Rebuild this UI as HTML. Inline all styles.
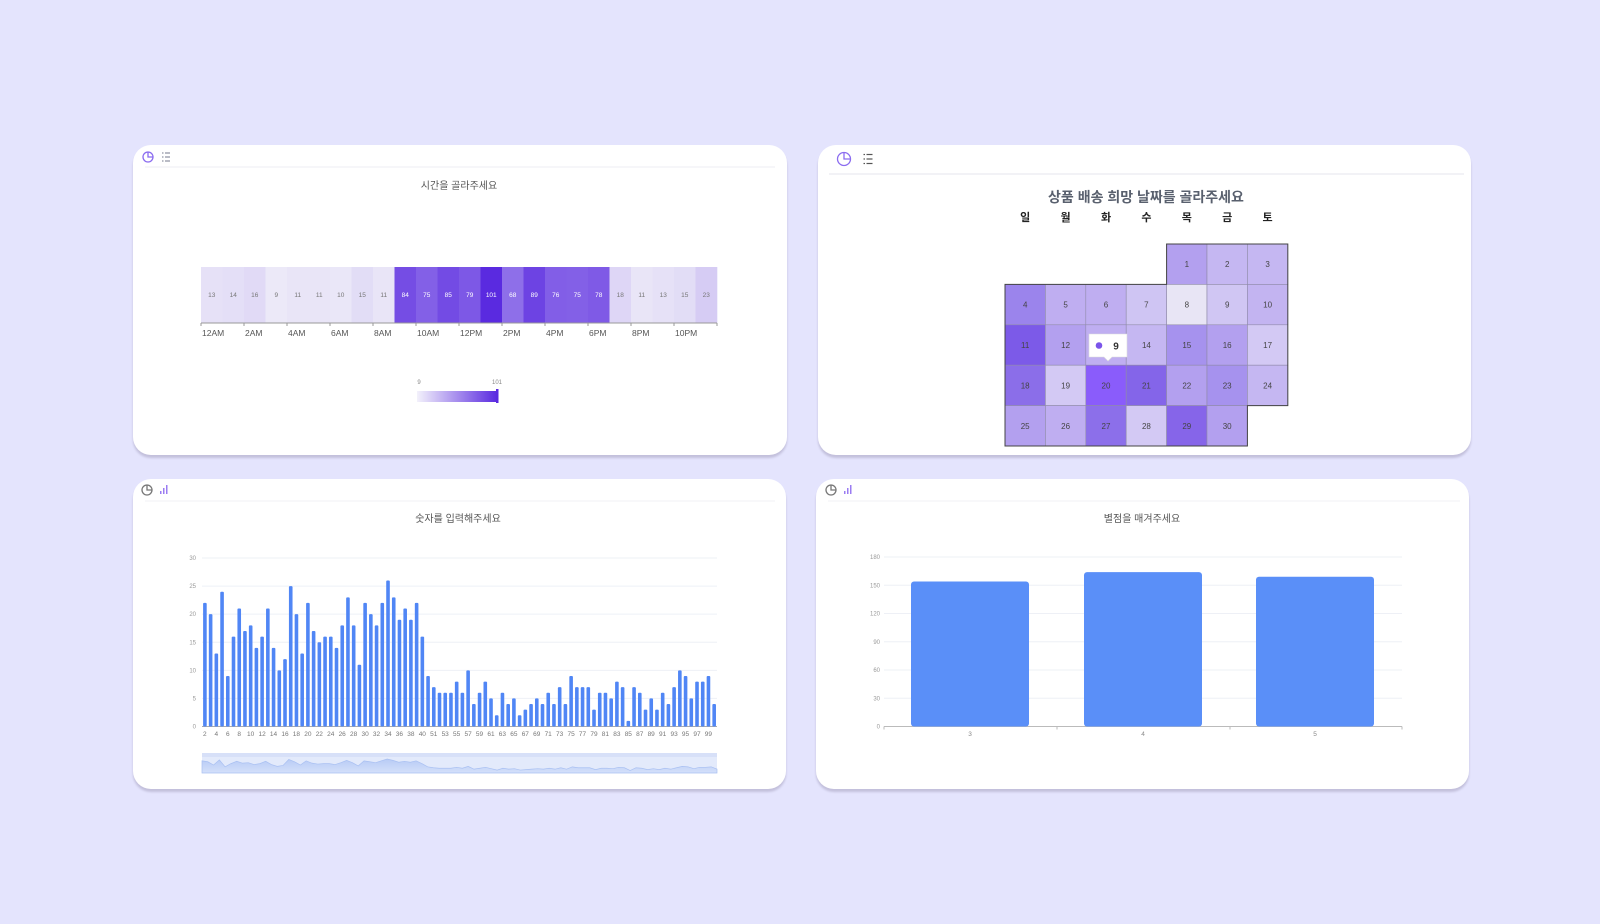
<!DOCTYPE html>
<html><head><meta charset="utf-8"><style>
html,body{margin:0;padding:0}
body{width:1600px;height:924px;background:#e4e4fd;position:relative;overflow:hidden;font-family:"Liberation Sans","Noto Sans CJK KR",sans-serif}
.card{position:absolute;background:#fff;border-radius:18px;box-shadow:0 3px 2px #c3c0dc}
svg{position:absolute;left:0;top:0}
</style></head><body>
<div class="card" style="left:133px;top:145px;width:654px;height:310px"></div>
<div class="card" style="left:818px;top:145px;width:653px;height:310px"></div>
<div class="card" style="left:133px;top:479px;width:653px;height:310px"></div>
<div class="card" style="left:816px;top:479px;width:653px;height:310px"></div>
<svg id="s" width="1600" height="924" xmlns="http://www.w3.org/2000/svg" font-family="Liberation Sans, Noto Sans CJK KR, sans-serif"></svg>
<script>
var o='';
function R(x,y,w,h,f,extra){o+='<rect x="'+x+'" y="'+y+'" width="'+w+'" height="'+h+'" fill="'+f+'" '+(extra||'')+'/>';}
function T(x,y,t,sz,f,anc,extra){o+='<text x="'+x+'" y="'+y+'" font-size="'+sz+'" fill="'+f+'" text-anchor="'+(anc||'middle')+'" '+(extra||'')+'>'+t+'</text>';}
function L(x1,y1,x2,y2,c,w){o+='<line x1="'+x1+'" y1="'+y1+'" x2="'+x2+'" y2="'+y2+'" stroke="'+c+'" stroke-width="'+(w||1)+'"/>';}
function pie(x,y,r,c){o+='<circle cx="'+x+'" cy="'+y+'" r="'+r+'" fill="none" stroke="'+c+'" stroke-width="1.3"/><path d="M'+x+' '+(y-r)+' V'+y+' H'+(x+r)+'" fill="none" stroke="'+c+'" stroke-width="1.3"/>';}
function list(x,y,s,c){for(var i=0;i<3;i++){L(x-s,y-s+i*s,x-s+1.5,y-s+i*s,c,1.2);L(x-s+3,y-s+i*s,x+s,y-s+i*s,c,1.2);}}
function bars(x,y,c){R(x-4,y+1,1.5,3,c);R(x-1,y-2,1.5,6,c);R(x+2,y-5,1.5,9,c);}
// icons & dividers
pie(148,157,5,'#8b6cf0');list(166,157,4,'#8b8fa0');L(145,167,775,167,'#eeeef3');
pie(844,159,6.5,'#8b6cf0');list(868,159,4.5,'#555');L(829,174,1464,174,'#e6e6ee');
pie(147,490,5,'#777');bars(164,490,'#9b7cf2');L(145,501,775,501,'#f2f2f6');
pie(831,490,5,'#777');bars(848,490,'#9b7cf2');L(828,501,1460,501,'#f2f2f6');
// titles
T(459,189,'시간을 골라주세요',10,'#555');
T(1146,202,'상품 배송 희망 날짜를 골라주세요',14,'#59606e','middle','font-weight="bold"');
T(458,522,'숫자를 입력해주세요',10,'#555');
T(1142,522,'별점을 매겨주세요',10,'#555');
// card1 heatmap
var hv=[13,14,16,9,11,11,10,15,11,84,75,85,79,101,68,89,76,75,78,18,11,13,15,23];
function col(v){var t=(v-9)/92;var a=[236,233,248],b=[90,42,224];var c=a.map(function(x,i){return Math.round(x+(b[i]-x)*t);});return 'rgb('+c.join(',')+')';}
var hx=201,hw=21.5;
hv.forEach(function(v,i){R(hx+i*hw,267,hw+0.3,56,col(v));T(hx+i*hw+hw/2,297,v,6.5,v>60?'#fff':'#777');});
L(hx,323,hx+24*hw,323,'#999');
var hl=['12AM','2AM','4AM','6AM','8AM','10AM','12PM','2PM','4PM','6PM','8PM','10PM'];
hl.forEach(function(t,i){L(hx+i*2*hw,323,hx+i*2*hw,326,'#999');T(hx+i*2*hw+1,336,t,8.5,'#555','start');});
L(hx+24*hw,323,hx+24*hw,326,'#999');
o+='<defs><linearGradient id="g" x1="0" x2="1"><stop offset="0" stop-color="#f3f1fb"/><stop offset="1" stop-color="#5a2ae0"/></linearGradient><linearGradient id="a" x1="0" x2="0" y1="0" y2="1"><stop offset="0" stop-color="#b8cbf5"/><stop offset="1" stop-color="#d4e0fa"/></linearGradient></defs>';
R(417,391,80,11,'url(#g)');R(496,389,2.5,14,'#5a2ae0');
T(419,384,'9',6,'#888');T(497,384,'101',6,'#888');
// card2 calendar
var dl=['일','월','화','수','목','금','토'];
var cx0=1005,cw=40.4,cy0=244,ch=40.4;
dl.forEach(function(t,i){T(cx0+i*cw+cw/2,221,t,11,'#222','middle','font-weight="bold"');});
var cc={1:'#b3a0ef',2:'#c5b7f2',3:'#c5b7f2',4:'#9b84ec',5:'#bfaef1',6:'#bfaef1',7:'#cfc5f3',8:'#e8e5f5',9:'#d0c6f3',10:'#c3b4f1',11:'#7c5ae8',12:'#b3a0ef',13:'#bfaef1',14:'#c5b7f2',15:'#a692ee',16:'#b3a0ef',17:'#d3c9f4',18:'#8b6ee9',19:'#d3c9f4',20:'#8a5cfb',21:'#8465e9',22:'#b3a0ef',23:'#a692ee',24:'#c5b7f2',25:'#b3a0ef',26:'#bfaef1',27:'#8c6fea',28:'#d3c9f4',29:'#8665e9',30:'#b3a0ef'};
for(var d=1;d<=30;d++){var p=d+3,r=Math.floor(p/7),c=p%7;var x=cx0+c*cw,y=cy0+r*ch;R(x,y,cw,ch,cc[d],'stroke="#8f8aa8" stroke-width="0.6"');T(x+cw/2,y+ch/2+3,d,8,'#444');}
var X=function(c){return cx0+c*cw},Y=function(r){return cy0+r*ch};
o+='<path d="M'+X(4)+' '+Y(0)+' H'+X(7)+' V'+Y(4)+' H'+X(6)+' V'+Y(5)+' H'+X(0)+' V'+Y(1)+' H'+X(4)+' Z" fill="none" stroke="#444" stroke-width="1"/>';
o+='<path d="M1089 334 H1127 V357 H1112 L1108 361 L1104 357 H1089 Z" fill="#fff" stroke="#ddd" stroke-width="0.6"/>';
o+='<circle cx="1099" cy="345.5" r="3.3" fill="#7b55ea"/>';T(1116,349.5,'9',10,'#333','middle','font-weight="bold"');
// card3 bar chart
var bv=[22,20,13,24,9,16,21,17,18,14,16,21,14,10,12,25,20,13,22,17,15,16,16,14,18,23,18,11,22,20,18,22,26,23,19,21,19,22,16,9,7,6,6,6,8,6,10,4,6,8,5,2,6,4,5,2,3,4,5,4,6,4,7,4,9,7,7,7,3,6,6,5,8,7,1,7,6,3,5,3,6,4,7,10,9,5,8,8,9,4];
var labs=[];for(var i=2;i<=40;i++)labs.push(i);for(i=50;i<=100;i++)labs.push(i);
var px0=202,px1=717,py0=726.5,py1=558,sl=(px1-px0)/90;
for(i=0;i<=6;i++){var yy=py0-(py0-py1)*i/6;if(i>0)L(px0,yy,px1,yy,'#eef0f6');T(196,yy+2,i*5,6,'#999','end');}
L(px0,py0,px1,py0,'#aaa');
bv.forEach(function(v,i){var h=v/30*(py0-py1);R(px0+i*sl+1.1,py0-h,3.6,h,'#5086f5','rx="1"');if(i%2==0){T(px0+i*sl+sl/2,736,labs[i],6.5,'#777');}});
R(202,753,515,20,'#e3eafb');R(202,753,515,4,'#d7e0f8');
var ap='M202 773';bv.forEach(function(v,i){ap+=' L'+(202+i*515/89)+' '+(771-v/26*12);});ap+=' L717 773 Z';
o+='<path d="'+ap+'" fill="url(#a)" stroke="#a9c0f2" stroke-width="0.7"/>';
// card4
var qx0=884,qx1=1402,qy0=726.5,qy1=557;
for(i=0;i<=6;i++){var yy=qy0-(qy0-qy1)*i/6;if(i>0)L(qx0,yy,qx1,yy,'#eef0f6');T(880,yy+2,i*30,6,'#999','end');}
L(qx0,qy0,qx1,qy0,'#bbb');
[[911,154,'3'],[1084,164,'4'],[1256,159,'5']].forEach(function(b,i){var h=b[1]/180*(qy0-qy1);R(b[0],qy0-h,118,h,'#5a8ff8','rx="3"');T(b[0]+59,736,b[2],6.5,'#888');});
[884,1057,1230,1402].forEach(function(x){L(x,qy0,x,qy0+3,'#bbb');});
document.getElementById('s').innerHTML=o;
</script>
</body></html>
